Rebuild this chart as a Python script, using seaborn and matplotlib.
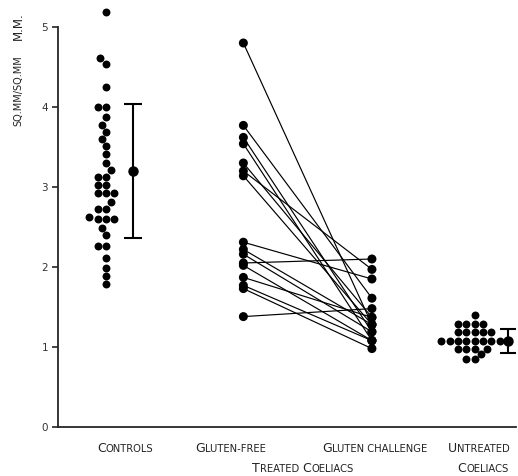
import matplotlib
matplotlib.use("Agg")
import numpy as np
import pandas as pd
import seaborn as sns
import matplotlib.pyplot as plt
from matplotlib.offsetbox import TextArea, HPacker, AnnotationBbox

# ---------------- data ----------------
controls = [5.19, 4.61, 4.54, 4.25, 4.00, 4.00, 3.88, 3.78, 3.69, 3.60, 3.51,
            3.41, 3.30, 3.21, 3.13, 3.13, 3.03, 3.03, 2.93, 2.93, 2.93, 2.81,
            2.73, 2.73, 2.62, 2.60, 2.60, 2.60, 2.49, 2.40, 2.26, 2.26, 2.11,
            1.99, 1.89, 1.79]
gluten_free = [4.80, 3.77, 3.62, 3.54, 3.30, 3.20, 3.14, 2.31, 2.22, 2.16,
               2.05, 2.02, 1.87, 1.77, 1.73, 1.38]
gluten_challenge = [1.28, 1.61, 1.19, 1.08, 1.37, 1.97, 1.28, 1.85, 1.28, 1.19,
                    2.10, 1.08, 1.37, 1.08, 0.98, 1.48]
untreated = [1.40,
             1.29, 1.29, 1.29, 1.29,
             1.19, 1.19, 1.19, 1.19, 1.19,
             1.075, 1.075, 1.075, 1.075, 1.075, 1.075, 1.075, 1.075,
             0.975, 0.975, 0.975, 0.975,
             0.91, 0.85, 0.85]
controls_mean, controls_sd = 3.20, 0.84
untreated_mean, untreated_sd = 1.07, 0.15

group_labels = ["Controls", "Gluten-free", "Gluten challenge", "Untreated"]
sub_labels = ["Treated Coeliacs", "Coeliacs"]
y_ticks = [0, 1, 2, 3, 4, 5]
y_label_main = "SQ.MM/SQ.MM"
y_label_suffix = "M.M."

# ---------------- layout ----------------
POS = {"controls": 1.06, "gf": 2.44, "gc": 3.73, "untreated": 4.76}
ERR_POS = {"controls": 1.33, "untreated": 5.10}
W, H, DPI = 518, 476, 100

sns.set_style("ticks")
plt.rcParams["font.family"] = ["DejaVu Sans"]

fig = plt.figure(figsize=(W / DPI, H / DPI), dpi=DPI)
ax_left, ax_bottom = 58 / W, (H - 427) / H
ax = fig.add_axes([ax_left, ax_bottom, 1 - ax_left - 0.003, 1 - ax_bottom])

# paired lines gluten-free -> challenge
rows = []
for i, (a, b) in enumerate(zip(gluten_free, gluten_challenge)):
    rows.append({"subject": i, "x": POS["gf"], "y": a})
    rows.append({"subject": i, "x": POS["gc"], "y": b})
df_lines = pd.DataFrame(rows)
sns.lineplot(data=df_lines, x="x", y="y", units="subject", estimator=None,
             color="black", lw=0.85, ax=ax, legend=False, sort=False)
sns.scatterplot(data=df_lines, x="x", y="y", color="black", s=42,
                edgecolor="none", ax=ax, legend=False, zorder=3)

# swarms
df_sw = pd.DataFrame({
    "x": [POS["controls"]] * len(controls) + [POS["untreated"]] * len(untreated),
    "y": controls + untreated,
})
sns.swarmplot(data=df_sw, x="x", y="y", native_scale=True, orient="x",
              color="black", size=5.7, ax=ax, warn_thresh=1)

# mean +/- SD bars
ax.errorbar(ERR_POS["controls"], controls_mean, yerr=controls_sd, fmt="o",
            color="black", ms=6.5, capsize=6.5, elinewidth=1.5, capthick=1.5)
ax.errorbar(ERR_POS["untreated"], untreated_mean, yerr=untreated_sd, fmt="o",
            color="black", ms=6.5, capsize=5.5, elinewidth=1.5, capthick=1.5)

# axes styling
ax.set_xlim(0.58, 0.58 + (W - 58) / 100)
ax.set_ylim(0, 427 / 80)
ax.set_xticks([])
ax.set_yticks(y_ticks)
ax.set_yticklabels([str(t) for t in y_ticks], fontsize=7.5, color="#333333")
ax.tick_params(axis="y", direction="out", length=4, width=1.2, pad=3)
for s in ("top", "right"):
    ax.spines[s].set_visible(False)
ax.spines["left"].set_bounds(0, 5)
ax.spines["left"].set_linewidth(1.3)
ax.spines["bottom"].set_linewidth(1.3)
ax.set_xlabel("")
ax.set_ylabel("")


def small_caps(text, big=9.0, small=7.2):
    parts, cur, cur_big = [], "", None
    for ch in text:
        is_big = ch.isupper()
        if cur_big is None or is_big == cur_big or ch in " -":
            if cur_big is None:
                cur_big = is_big
            cur += ch.upper()
        else:
            parts.append((cur, cur_big))
            cur, cur_big = ch.upper(), is_big
    parts.append((cur, cur_big))
    boxes = [TextArea(t, textprops=dict(size=big if b else small,
                                         color="#222222"))
             for t, b in parts]
    return HPacker(children=boxes, align="baseline", pad=0, sep=0)


label_xy = [(125, 449), (231, 449), (375, 449), (479, 449)]
for lab, (px, py) in zip(group_labels, label_xy):
    ab = AnnotationBbox(small_caps(lab), (px, H - py), xycoords="figure pixels",
                        frameon=False, box_alignment=(0.5, 0.5))
    fig.add_artist(ab)
sub_xy = [(303, 468), (483, 468)]
for lab, (px, py) in zip(sub_labels, sub_xy):
    ab = AnnotationBbox(small_caps(lab), (px, H - py), xycoords="figure pixels",
                        frameon=False, box_alignment=(0.5, 0.5))
    fig.add_artist(ab)

# y label (rotated)
fig.text(18 / W, 1 - 91 / H, y_label_main, rotation=90, ha="center",
         va="center", fontsize=7, color="#222222")
fig.text(18 / W, 1 - 26 / H, y_label_suffix, rotation=90, ha="center",
         va="center", fontsize=8.5, color="#222222")

fig.savefig("out.png", dpi=DPI)
